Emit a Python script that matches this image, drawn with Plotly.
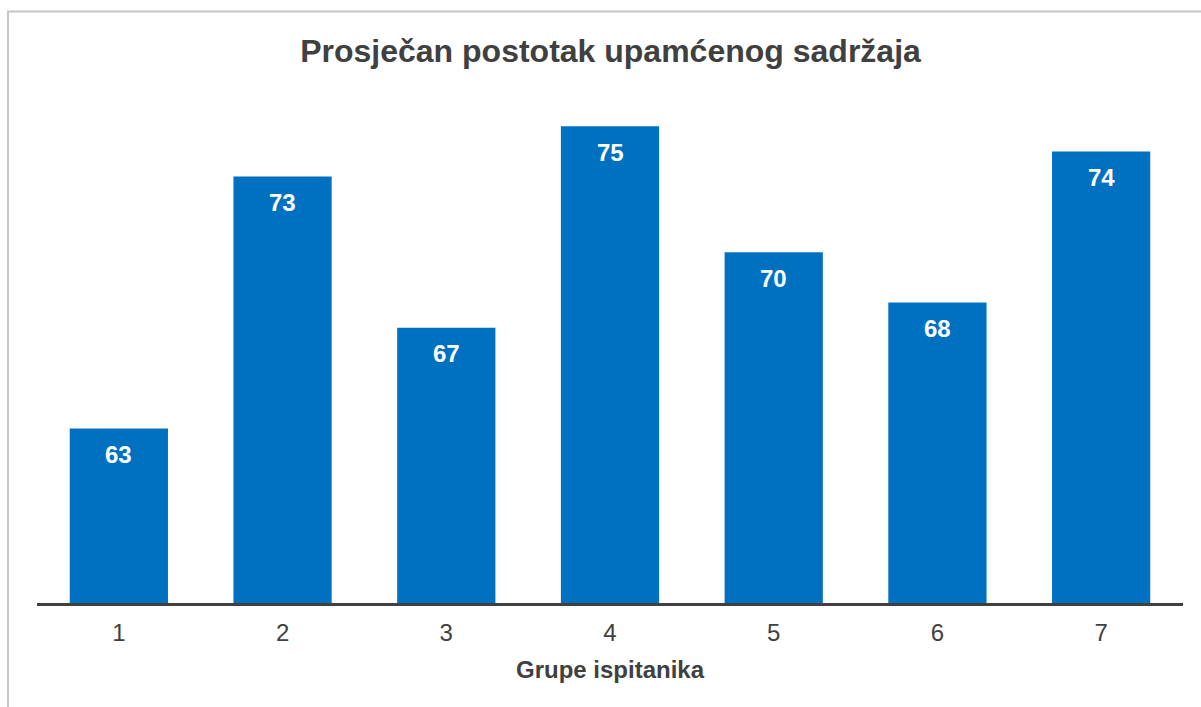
import plotly.graph_objects as go

categories = ["1", "2", "3", "4", "5", "6", "7"]
values = [63, 73, 67, 75, 70, 68, 74]
title_text = "Prosječan postotak upamćenog sadržaja"
x_title = "Grupe ispitanika"
y_min, y_max = 56, 76

W, H = 1201, 707
L, R, T, B = 37, 18, 101, 102
pw, ph = W - L - R, H - T - B

FONT = "Liberation Sans, Arial, sans-serif"
DARK = "#404040"
BLUE = "#0070C0"

fig = go.Figure(go.Bar(x=categories, y=values, marker=dict(color=BLUE, line=dict(width=0)),
                       hoverinfo="x+y"))

# value labels: x given as category index on the category axis
for i, v in enumerate(values):
    fig.add_annotation(x=i, y=v, xref="x", yref="y", text=f"<b>{v}</b>", showarrow=False,
                       yanchor="middle", yshift=-26,
                       font=dict(family=FONT, size=24, color="white"))

# chart border (gray) in paper coords
def px_to_paper_x(px):
    return (px - L) / pw

def py_to_paper_y(py):
    return (H - B - py) / ph

fig.add_shape(type="rect", xref="paper", yref="paper",
              x0=px_to_paper_x(8), x1=px_to_paper_x(1230),
              y0=py_to_paper_y(730), y1=py_to_paper_y(11.5),
              line=dict(color="#C6C6C6", width=2), fillcolor="rgba(0,0,0,0)", layer="below")

# category axis baseline (at bottom of plot area = y_min)
fig.add_shape(type="line", xref="paper", yref="paper", x0=0, x1=1,
              y0=py_to_paper_y(604.5), y1=py_to_paper_y(604.5),
              line=dict(color=DARK, width=3), layer="above")

fig.update_layout(
    width=W, height=H,
    margin=dict(l=L, r=R, t=T, b=B, pad=0),
    paper_bgcolor="white", plot_bgcolor="white",
    bargap=0.4,
    showlegend=False,
    title=dict(text=f"<b>{title_text}</b>", x=610.5 / W, xanchor="center",
               y=1 - 51 / H, yanchor="middle",
               font=dict(family=FONT, size=32, color=DARK)),
    xaxis=dict(type="category", range=[-0.5, 6.5], showline=False,
               showgrid=False, zeroline=False, ticks="", ticklabelstandoff=11,
               tickfont=dict(family=FONT, size=24, color=DARK),
               title=dict(text=f"<b>{x_title}</b>", font=dict(family=FONT, size=24, color=DARK),
                          standoff=16)),
    yaxis=dict(range=[y_min, y_max], visible=False, showgrid=False, zeroline=False),
)

fig.write_html("out.html", config={"displayModeBar": False},
               post_script="document.body.style.margin='0';document.body.style.overflow='hidden';")
